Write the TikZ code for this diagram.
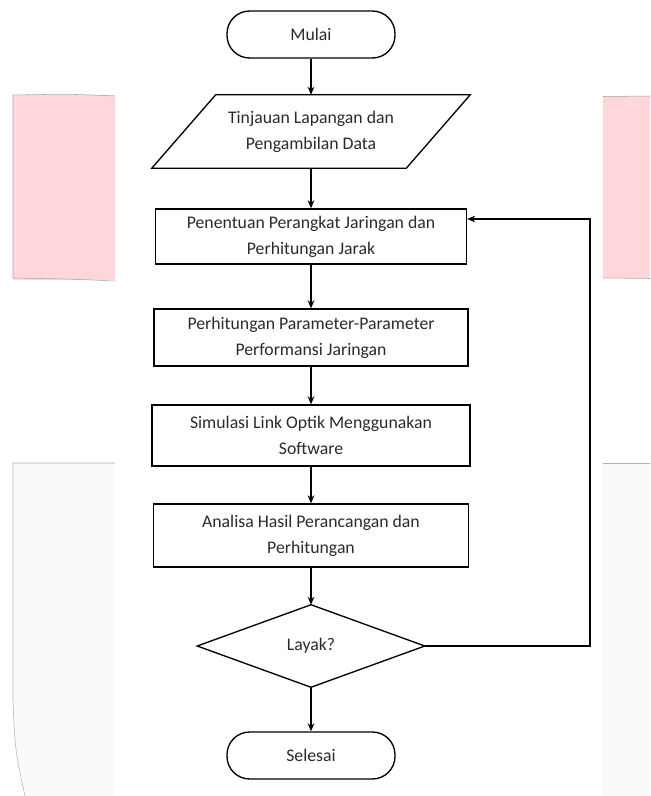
\documentclass[tikz,border=0pt]{standalone}
\usepackage{fontspec}
\setmainfont{Carlito}
\usetikzlibrary{calc,arrows.meta}
\definecolor{scanpink}{HTML}{FFD7DB}
\definecolor{scangrey}{HTML}{FAFAFA}
\definecolor{txt}{HTML}{2A2A2A}
\tikzset{
  box/.style={draw, line width=1pt, align=center, text=txt, font=\fontsize{13.3}{19.5}\selectfont, inner sep=1pt},
  ghost/.style={draw=none, align=center, text=txt, font=\fontsize{13.3}{19.5}\selectfont, inner sep=1pt},
  term/.style={box, rounded corners=17pt},
  flow/.style={line width=1pt, -{Stealth[length=6pt,width=5pt]}},
  plain/.style={line width=1pt}
}
\begin{document}
\begin{tikzpicture}[x=0.75pt,y=-0.75pt]
\useasboundingbox (0,0) rectangle (650,796);
% scanned background artefacts
\fill[scanpink] (13,95) rectangle (115,280);
\draw[gray!70,line width=0.4pt] (115,96) .. controls (70,94) .. (13,95) -- (13,278) .. controls (70,279) .. (115,281);
\fill[scanpink] (603,96) rectangle (650,278);
\draw[gray!70,line width=0.4pt] (650,96) -- (603,96.5);
\draw[gray!70,line width=0.4pt] (603,278) -- (650,278.5);
\fill[scangrey] (13,463) rectangle (115,796);
\fill[white] (13,700) .. controls (15,750) .. (25,796) -- (13,796) -- cycle;
\draw[gray!60,line width=0.4pt] (115,463) -- (13,463) -- (13,700) .. controls (15,750) .. (25,796);
\fill[scangrey] (603,463) rectangle (650,796);
\draw[gray!60,line width=0.4pt] (603,463) -- (650,463);
% nodes
\node[term, minimum width=126pt, minimum height=35.25pt] (start) at (311,34.5) {Mulai};
\node[ghost, minimum width=238.5pt, minimum height=54.75pt] (data) at (311,131.5) {Tinjauan Lapangan dan\\Pengambilan Data};
\draw[plain] ($(data.north west)+(64,0)$) -- (data.north east) -- ($(data.south east)+(-64,0)$) -- (data.south west) -- cycle;
\node[box, minimum width=233.25pt, minimum height=41.25pt] (b1) at (311,236.5) {Penentuan Perangkat Jaringan dan\\Perhitungan Jarak};
\node[box, minimum width=235.5pt, minimum height=42.75pt] (b2) at (311,337.5) {Perhitungan Parameter-Parameter\\Performansi Jaringan};
\node[box, minimum width=238.5pt, minimum height=45.75pt] (b3) at (311,435.5) {Simulasi Link Optik Menggunakan\\Software};
\node[box, minimum width=236.25pt, minimum height=47.25pt] (b4) at (311,535.5) {Analisa Hasil Perancangan dan\\Perhitungan};
\node[ghost, minimum width=170.25pt, minimum height=61.5pt] (dec) at (311,646) {Layak?};
\draw[plain] (dec.north) -- (dec.east) -- (dec.south) -- (dec.west) -- cycle;
\node[term, minimum width=126pt, minimum height=35.25pt] (end) at (311,755.5) {Selesai};
\coordinate (fb) at (590,219);
% connectors
\draw[flow] (start) -- (data);
\draw[flow] (data) -- (b1);
\draw[flow] (b1) -- (b2);
\draw[flow] (b2) -- (b3);
\draw[flow] (b3) -- (b4);
\draw[flow] (b4) -- (dec.north);
\draw[flow] (dec.south) -- (end);
\draw[flow] (dec.east) -| (fb) -- (fb -| b1.east);
\end{tikzpicture}
\end{document}
